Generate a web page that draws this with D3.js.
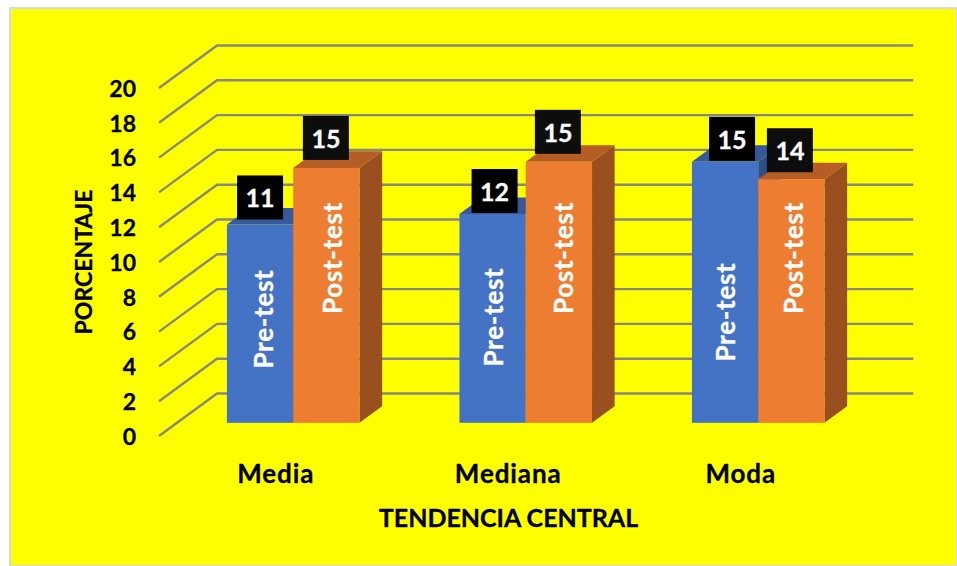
<!DOCTYPE html>
<html>
<head>
<meta charset="utf-8">
<script src="https://cdn.jsdelivr.net/npm/d3@7"></script>
<style>
html,body{margin:0;padding:0;background:#fff}
svg{display:block}
text{font-family:Lato,"Open Sans",sans-serif;font-weight:700}
</style>
</head>
<body>
<div id="chart"></div>
<script>
const categories = ["Media", "Mediana", "Moda"];
const seriesNames = ["Pre-test", "Post-test"];
const preTest = [11.4, 12.0, 15.0];
const postTest = [14.65, 15.0, 14.0];
const yTicks = [0, 2, 4, 6, 8, 10, 12, 14, 16, 18, 20];
const seriesColors = ["#4472C4", "#ED7D31"];
const topColors = ["#35599A", "#B55D25"];
const sideColors = ["#2E4E87", "#9A4F1E"];
const xTitle = "TENDENCIA CENTRAL";
const yTitle = "PORCENTAJE";

const W = 957, H = 566;
const svg = d3.select("#chart").append("svg").attr("width", W).attr("height", H);

svg.append("rect").attr("x", 10).attr("y", 8).attr("width", W - 10).attr("height", H - 8)
  .attr("fill", "#FFFF00").attr("stroke", "#d9d9d9").attr("stroke-width", 2);

// Oblique projection: value + depth fraction -> screen
const wallDX = 58, wallDY = -42.5;
const y = d3.scaleLinear().domain([0, 20]).range([436, 88]);
const x = d3.scaleBand().domain(categories).range([159, 856.5]);
const x1 = d3.scaleBand().domain(seriesNames).range([0, 132.6]);
const bandPad = (x.bandwidth() - x1.range()[1]) / 2;
const depthFront = 0.31, depthBack = 0.70;
const px = d => wallDX * d;
const py = d => wallDY * d;

// Gridlines: floor/wall edge then back wall
const gridLine = d3.line().x(d => d[0]).y(d => d[1]);
svg.append("g").selectAll("path").data(yTicks).join("path")
  .attr("d", t => gridLine([[159, y(t)], [159 + wallDX, y(t) + wallDY], [159 + wallDX + 696.3, y(t) + wallDY]]))
  .attr("fill", "none").attr("stroke", "#87877A").attr("stroke-width", 2.4);

// Bars
const rows = [];
categories.forEach((c, i) => {
  rows.push({c, s: 0, v: preTest[i]});
  rows.push({c, s: 1, v: postTest[i]});
});
// label nudges relative to the bar's top centre
const labelDX = [0, -0.5, 2, -1, 7, -1.5];
const labelGap = [5, 8, 1, 8, 1, 7];
// series-name text placement relative to the bar
const nameDX = [2.5, 5.5, 0.5, 4, 0, 1.5];
const nameCY = [319, 258, 317, 258, 312, 258];

const poly = pts => "M" + pts.map(p => p.join(",")).join("L") + "Z";
const bars = svg.append("g").selectAll("g").data(rows).join("g");
const geo = d => {
  const x0 = x(d.c) + bandPad + x1(seriesNames[d.s]) + px(depthFront);
  const x2 = x0 + x1.bandwidth();
  const base = y(0) + py(depthFront);
  const top = base - (y(0) - y(d.v));
  const ddx = px(depthBack - depthFront), ddy = py(depthBack - depthFront);
  return {x0, x2, base, top, ddx, ddy};
};
bars.append("path").attr("fill", d => sideColors[d.s]).attr("d", d => {
  const g = geo(d);
  return poly([[g.x2, g.top], [g.x2 + g.ddx, g.top + g.ddy], [g.x2 + g.ddx, g.base + g.ddy], [g.x2, g.base]]);
});
bars.append("path").attr("fill", d => topColors[d.s]).attr("d", d => {
  const g = geo(d);
  return poly([[g.x0, g.top], [g.x0 + g.ddx, g.top + g.ddy], [g.x2 + g.ddx, g.top + g.ddy], [g.x2, g.top]]);
});
bars.append("rect").attr("fill", d => seriesColors[d.s])
  .attr("x", d => geo(d).x0).attr("width", x1.bandwidth())
  .attr("y", d => geo(d).top).attr("height", d => geo(d).base - geo(d).top);

// Series-name labels inside the bars
bars.append("text")
  .attr("fill", "#fff").attr("font-size", 26).attr("letter-spacing", 0.7).attr("text-anchor", "middle")
  .attr("dominant-baseline", "central").attr("stroke", "#fff").attr("stroke-width", 0.3)
  .attr("transform", (d, i) => {
    const g = geo(d);
    return `translate(${(g.x0 + g.x2) / 2 + nameDX[i]},${nameCY[i]}) rotate(-90)`;
  })
  .text(d => seriesNames[d.s]);

// Data labels
const labels = svg.append("g").selectAll("g").data(rows).join("g")
  .attr("transform", (d, i) => {
    const g = geo(d);
    return `translate(${(g.x0 + g.x2) / 2 + labelDX[i]},${g.top - labelGap[i] - 22})`;
  });
labels.append("rect").attr("x", -23).attr("y", -22).attr("width", 46).attr("height", 44)
  .attr("fill", d => d.s ? "#0D0D0D" : "#000");
labels.append("text").attr("fill", "#fff").attr("font-size", 25).attr("text-anchor", "middle")
  .attr("dominant-baseline", "central").attr("stroke", "#fff").attr("stroke-width", 0.3)
  .text(d => d3.format(".0f")(d.v));

// Value axis labels
const axis = d3.axisLeft(y).tickValues(yTicks).tickSize(0).tickPadding(23);
const ay = svg.append("g").attr("transform", "translate(159,1)").call(axis);
ay.select(".domain").remove();
ay.selectAll("text").attr("font-size", 23).attr("fill", "#000").attr("stroke", "#000").attr("stroke-width", 0.3)
  .style("font-family", "Lato").style("font-weight", 700);

// Category labels
svg.append("g").selectAll("text").data(categories).join("text")
  .attr("x", d => x(d) + x.bandwidth() / 2 + 0.5)
  .attr("y", 483).attr("text-anchor", "middle").attr("font-size", 26).attr("letter-spacing", 0.9)
  .attr("fill", "#000").attr("stroke", "#000").attr("stroke-width", 0.3)
  .text(d => d);

// Axis titles
svg.append("text").attr("x", 508.5).attr("y", 527).attr("text-anchor", "middle")
  .attr("font-size", 25).attr("fill", "#000").attr("stroke", "#000").attr("stroke-width", 0.3).text(xTitle);
svg.append("text").attr("transform", "translate(92,262) rotate(-90)").attr("text-anchor", "middle")
  .attr("font-size", 23).attr("fill", "#000").attr("stroke", "#000").attr("stroke-width", 0.3).text(yTitle);
</script>
</body>
</html>
